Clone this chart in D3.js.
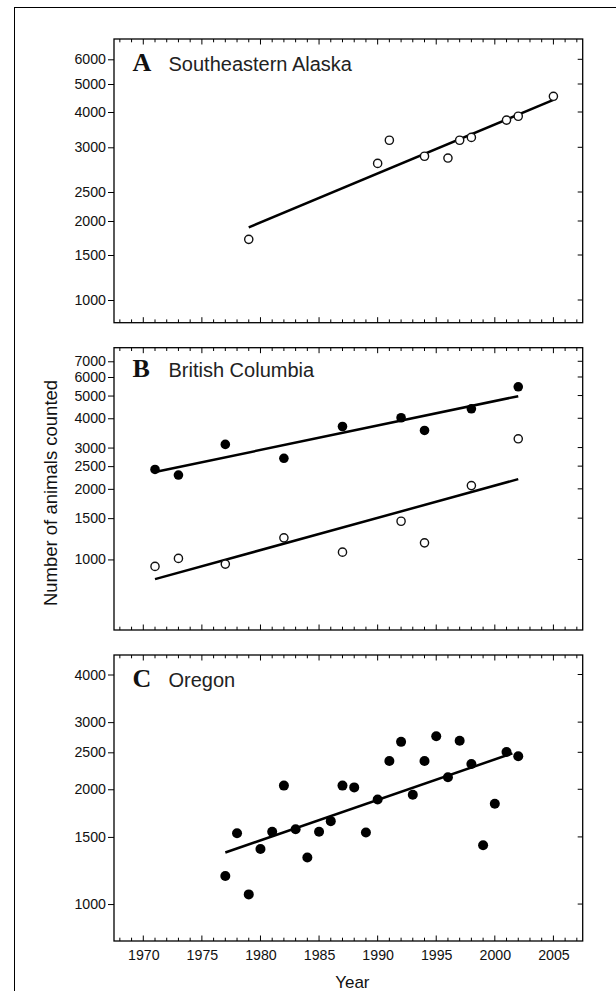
<!DOCTYPE html>
<html>
<head>
<meta charset="utf-8">
<script src="https://cdn.jsdelivr.net/npm/d3@7"></script>
<style>
  body { margin: 0; background: #fff; }
  text { font-family: "Liberation Sans", Arial, sans-serif; fill: #111; }
</style>
</head>
<body>
<div id="chart"></div>
<script>
// values
var yearsA = [1979, 1990, 1991, 1994, 1996, 1997, 1998, 2001, 2002, 2005];
var countsA = [1730, 2820, 3200, 2900, 2880, 3200, 3280, 3770, 3880, 4560];
var fitA = [[1979, 1907], [2005, 4430]];

var yearsB = [1971, 1973, 1977, 1982, 1987, 1992, 1994, 1998, 2002];
var countsBfilled = [2420, 2290, 3095, 2700, 3690, 4020, 3550, 4390, 5450];
var countsBopen = [934, 1010, 955, 1236, 1074, 1455, 1177, 2065, 3270];
var fitBfilled = [[1971, 2360], [2002, 4970]];
var fitBopen = [[1971, 824], [2002, 2200]];

var yearsC = [1977, 1978, 1979, 1980, 1981, 1982, 1983, 1984, 1985, 1986, 1987, 1988, 1989,
              1990, 1991, 1992, 1993, 1994, 1995, 1996, 1997, 1998, 1999, 2000, 2001, 2002];
var countsC = [1185, 1534, 1060, 1395, 1547, 2045, 1571, 1324, 1547, 1650, 2045, 2023, 1540,
               1880, 2373, 2663, 1935, 2373, 2756, 2150, 2680, 2330, 1427, 1833, 2506, 2441];
var fitC = [[1977, 1365], [2001.5, 2485]];

var ticksA = [1000, 1500, 2000, 2500, 3000, 4000, 5000, 6000];
var ticksB = [1000, 1500, 2000, 2500, 3000, 4000, 5000, 6000, 7000];
var ticksC = [1000, 1500, 2000, 2500, 3000, 4000];
var yearTicks = [1970, 1975, 1980, 1985, 1990, 1995, 2000, 2005];

// page layout
var width = 616, height = 991;
var left = 114, plotW = 468.7;

var svg = d3.select("#chart")
  .append("svg")
  .attr("width", width)
  .attr("height", height);

// outer frame (only top and left edges fall inside the page)
svg.append("rect")
  .attr("x", 14.5).attr("y", 7.5)
  .attr("width", 800).attr("height", 1200)
  .attr("fill", "none").attr("stroke", "#000").attr("stroke-width", 1);

var x = d3.scaleLinear().domain([1967.5, 2007.5]).range([0, plotW]);

// panel A axis is not evenly spaced in the original, so it is calibrated tick by tick
var yA = d3.scaleLinear()
  .domain([750, 1000, 1500, 2000, 2500, 3000, 4000, 5000, 6000, 6800])
  .range([283.7, 261, 216, 182, 153, 108.3, 73, 45, 20.3, 0]);
var yB = d3.scaleLog().domain([500, 8000]).range([282.3, 0]);
var yC = d3.scaleLog().domain([800, 4500]).range([286, 0]);

var panels = [
  { top: 39, h: 283.7, y: yA, ticks: ticksA, letter: "A", title: "Southeastern Alaska", base: 31.7 },
  { top: 347.7, h: 282.3, y: yB, ticks: ticksB, letter: "B", title: "British Columbia", base: 29.5 },
  { top: 655, h: 286, y: yC, ticks: ticksC, letter: "C", title: "Oregon", base: 31.7 }
];

var allYears = d3.range(1968, 2008);

panels.forEach(function(p, i) {
  var g = svg.append("g").attr("transform", "translate(" + left + "," + p.top + ")");

  // x ticks, inward on top and bottom
  g.append("g")
    .attr("transform", "translate(0," + p.h + ")")
    .call(d3.axisBottom(x).tickValues(allYears).tickSizeInner(0).tickSizeOuter(0).tickFormat(""))
    .call(function(a) { a.select(".domain").remove(); });

  g.selectAll(".xt").data(allYears).enter().append("line")
    .attr("x1", function(d) { return x(d); }).attr("x2", function(d) { return x(d); })
    .attr("y1", p.h).attr("y2", function(d) { return p.h - (d % 5 === 0 ? 5.5 : 3.3); })
    .attr("stroke", "#000").attr("stroke-width", 1);
  g.selectAll(".xtt").data(allYears).enter().append("line")
    .attr("x1", function(d) { return x(d); }).attr("x2", function(d) { return x(d); })
    .attr("y1", 0).attr("y2", function(d) { return d % 5 === 0 ? 5.5 : 3.3; })
    .attr("stroke", "#000").attr("stroke-width", 1);

  // y axis on the left, ticks outward
  var ya = g.append("g")
    .call(d3.axisLeft(p.y).tickValues(p.ticks).tickSizeInner(6).tickSizeOuter(0).tickPadding(2)
      .tickFormat(d3.format("d")));
  ya.select(".domain").remove();
  ya.selectAll("text")
    .attr("font-family", "Liberation Sans, Arial, sans-serif")
    .attr("font-size", 14.2).attr("fill", "#111");
  ya.selectAll("line").attr("stroke", "#000");

  // right side ticks, inward
  g.selectAll(".rt").data(p.ticks).enter().append("line")
    .attr("x1", plotW).attr("x2", plotW - 5)
    .attr("y1", function(d) { return p.y(d); }).attr("y2", function(d) { return p.y(d); })
    .attr("stroke", "#000").attr("stroke-width", 1);

  // frame of the panel
  g.append("rect")
    .attr("width", plotW).attr("height", p.h)
    .attr("fill", "none").attr("stroke", "#000").attr("stroke-width", 1.3);

  // panel letter and title
  g.append("text")
    .attr("x", 18.5).attr("y", p.base)
    .style("font-family", "'Liberation Serif', 'Times New Roman', serif")
    .style("font-weight", "bold").style("font-size", "26px")
    .text(p.letter);
  g.append("text")
    .attr("x", 54.5).attr("y", p.base)
    .style("font-size", "20px").style("fill", "#222")
    .text(p.title);

  p.g = g;
});

var line = function(y) {
  return d3.line().x(function(d) { return x(d[0]); }).y(function(d) { return y(d[1]); });
};

// panel A: open circles
var gA = panels[0].g;
gA.append("path").datum(fitA).attr("d", line(yA))
  .attr("fill", "none").attr("stroke", "#000").attr("stroke-width", 2.5);
gA.selectAll(".pt").data(yearsA).enter().append("circle")
  .attr("cx", function(d) { return x(d); })
  .attr("cy", function(d, i) { return yA(countsA[i]); })
  .attr("r", 4.1).attr("fill", "#fff").attr("stroke", "#111").attr("stroke-width", 1.4);

// panel B: filled and open series
var gB = panels[1].g;
gB.append("path").datum(fitBfilled).attr("d", line(yB))
  .attr("fill", "none").attr("stroke", "#000").attr("stroke-width", 2.5);
gB.append("path").datum(fitBopen).attr("d", line(yB))
  .attr("fill", "none").attr("stroke", "#000").attr("stroke-width", 2.5);
gB.selectAll(".pf").data(yearsB).enter().append("circle")
  .attr("cx", function(d) { return x(d); })
  .attr("cy", function(d, i) { return yB(countsBfilled[i]); })
  .attr("r", 4.8).attr("fill", "#000");
gB.selectAll(".po").data(yearsB).enter().append("circle")
  .attr("cx", function(d) { return x(d); })
  .attr("cy", function(d, i) { return yB(countsBopen[i]); })
  .attr("r", 4.1).attr("fill", "#fff").attr("stroke", "#111").attr("stroke-width", 1.4);

// panel C: filled circles
var gC = panels[2].g;
gC.append("path").datum(fitC).attr("d", line(yC))
  .attr("fill", "none").attr("stroke", "#000").attr("stroke-width", 2.5);
gC.selectAll(".pc").data(yearsC).enter().append("circle")
  .attr("cx", function(d) { return x(d); })
  .attr("cy", function(d, i) { return yC(countsC[i]); })
  .attr("r", 5).attr("fill", "#000");

// year labels under panel C
var gx = gC.append("g")
  .attr("transform", "translate(0," + panels[2].h + ")")
  .call(d3.axisBottom(x).tickValues(yearTicks).tickSize(0).tickPadding(9).tickFormat(d3.format("d")));
gx.select(".domain").remove();
gx.selectAll("text")
  .attr("font-family", "Liberation Sans, Arial, sans-serif")
  .attr("font-size", 14.2).attr("fill", "#111");

// axis titles
svg.append("text")
  .attr("x", left + plotW / 2 + 4).attr("y", 988)
  .attr("text-anchor", "middle")
  .style("font-size", "17px")
  .text("Year");

svg.append("text")
  .attr("transform", "translate(56.5,493) rotate(-90)")
  .attr("text-anchor", "middle")
  .style("font-size", "18.5px")
  .text("Number of animals counted");
</script>
</body>
</html>
